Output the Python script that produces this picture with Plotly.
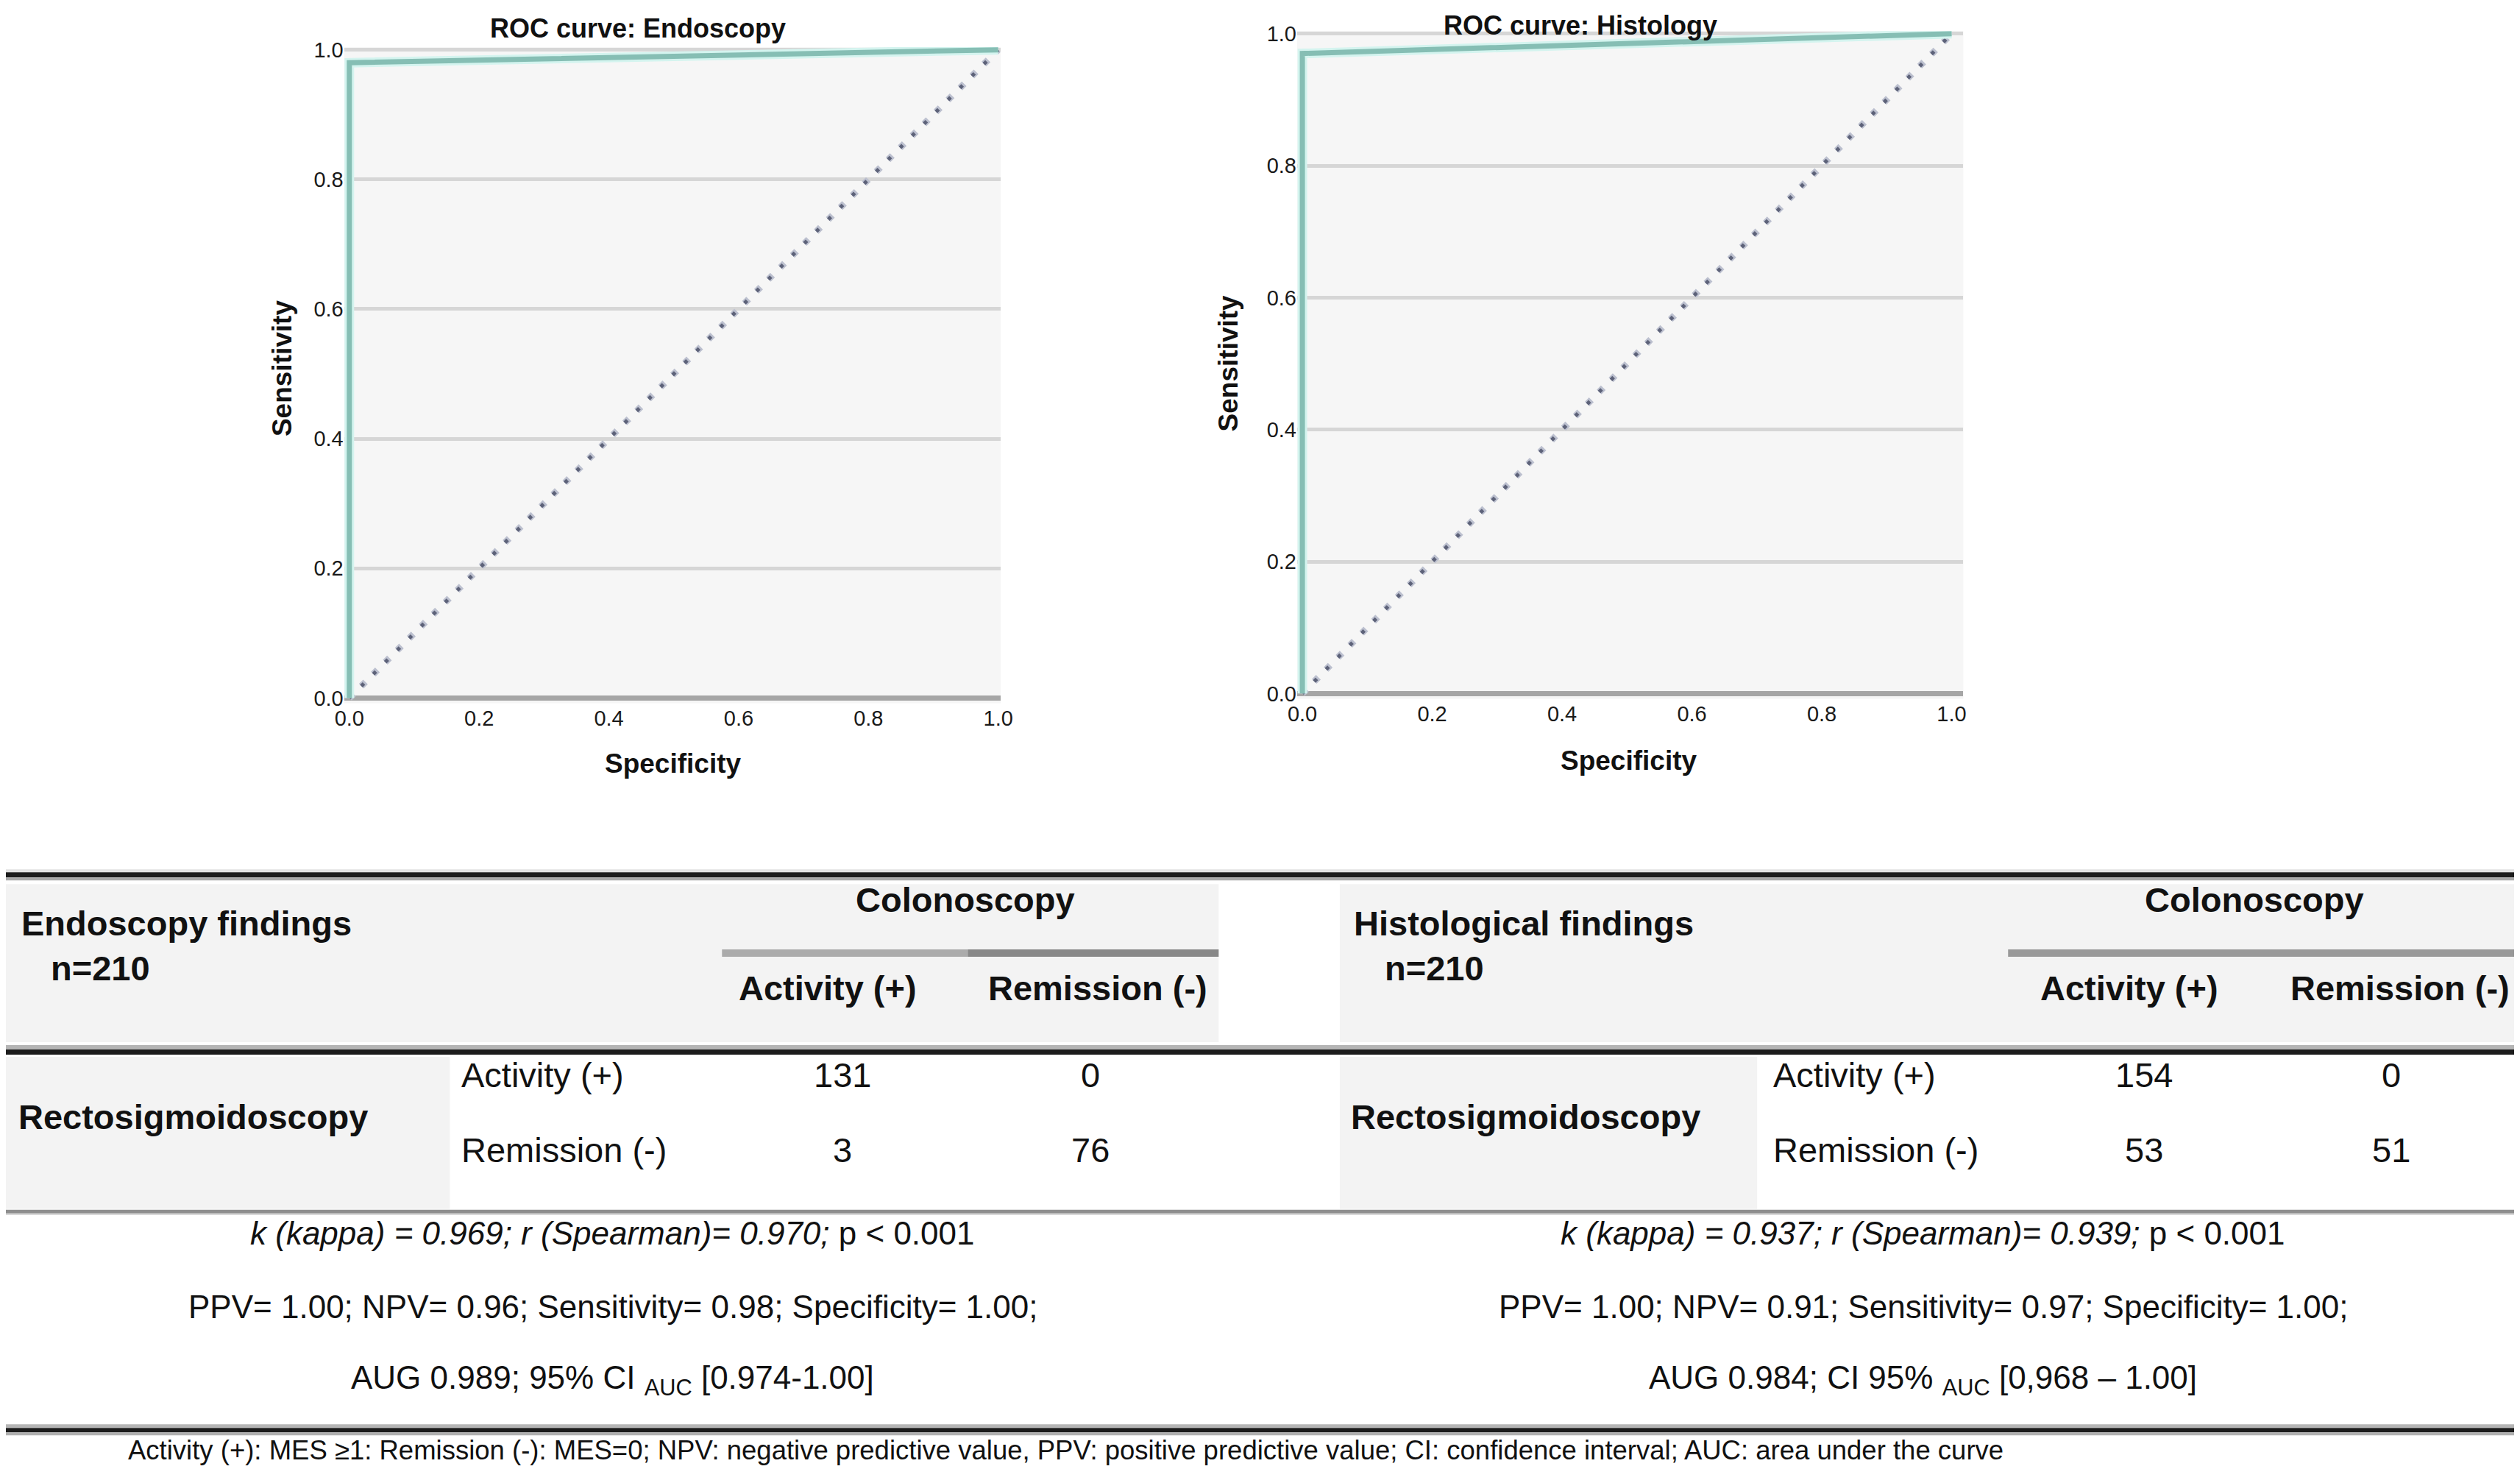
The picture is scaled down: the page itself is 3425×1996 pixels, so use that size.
import plotly.graph_objects as go

W, H = 3425, 1996
M = 8  # default body margin of the html page
FONT = "Liberation Sans, Arial, sans-serif"

# ROC curves (x axis drawn as 1 - specificity)
endo_x = [0.0, 0.0, 1.0]
endo_y = [0.0, 0.98, 1.0]
hist_x = [0.0, 0.0, 1.0]
hist_y = [0.0, 0.970, 1.0]
chance_x = [0.0, 1.0]
chance_y = [0.0, 1.0]
tick_vals = [0.0, 0.2, 0.4, 0.6, 0.8, 1.0]
tick_text = ["0.0", "0.2", "0.4", "0.6", "0.8", "1.0"]

# agreement tables
col_labels = ["Activity (+)", "Remission (-)"]
row_labels = ["Activity (+)", "Remission (-)"]
endo_counts = [[131, 0], [3, 76]]
hist_counts = [[154, 0], [53, 51]]
endo_stats = [
    "<i>k (kappa) = 0.969; r (Spearman)= 0.970;</i> p &lt; 0.001",
    "PPV= 1.00; NPV= 0.96; Sensitivity= 0.98; Specificity= 1.00;",
    "AUG 0.989; 95% CI <sub>AUC</sub> [0.974-1.00]",
]
hist_stats = [
    "<i>k (kappa) = 0.937; r (Spearman)= 0.939;</i> p &lt; 0.001",
    "PPV= 1.00; NPV= 0.91; Sensitivity= 0.97; Specificity= 1.00;",
    "AUG 0.984; CI 95% <sub>AUC</sub> [0,968 – 1.00]",
]
footnote = ("Activity (+): MES ≥1: Remission (-): MES=0; NPV: negative predictive value, "
            "PPV: positive predictive value; CI: confidence interval; AUC: area under the curve")

FW, FH = W, H
# small correction for how the page ends up in the screenshot
AX, BX = 13.0, 0.9941
AY, BY = 11.4, 0.9907


def px(x):
    return ((x - AX) / BX - M) / FW


def py(y):
    return 1 - ((y - AY) / BY - M) / FH


fig = go.Figure()

# ROC panels
for ax, xs, ys in [("", endo_x, endo_y), ("2", hist_x, hist_y)]:
    fig.add_trace(go.Scatter(x=chance_x, y=chance_y, mode="lines",
                             line=dict(color="#bcc0cf", width=9, dash="8px,15px"),
                             xaxis="x" + ax, yaxis="y" + ax, showlegend=False))
    fig.add_trace(go.Scatter(x=chance_x, y=chance_y, mode="lines",
                             line=dict(color="#5d6279", width=5, dash="5px,18px"),
                             xaxis="x" + ax, yaxis="y" + ax, showlegend=False))
    fig.add_trace(go.Scatter(x=xs, y=ys, mode="lines",
                             line=dict(color="#d4f4ef", width=13),
                             xaxis="x" + ax, yaxis="y" + ax, showlegend=False))
    fig.add_trace(go.Scatter(x=xs, y=ys, mode="lines",
                             line=dict(color="#86beb4", width=7),
                             xaxis="x" + ax, yaxis="y" + ax, showlegend=False))

axis_common = dict(tickvals=tick_vals, ticktext=tick_text, ticks="", showline=False,
                   tickfont=dict(family=FONT, size=29, color="#1a1a1a"))
y_common = dict(range=[-0.008, 1.004], showgrid=True, gridcolor="#d6d6d6", gridwidth=5,
                zeroline=True, zerolinecolor="#a6a6a6", zerolinewidth=7, **axis_common)


def dom(a, b):
    return [px(a), px(b)]


fig.update_layout(
    width=FW, height=FH,
    margin=dict(l=0, r=0, t=0, b=0),
    paper_bgcolor="white",
    plot_bgcolor="#f6f6f6",
    showlegend=False,
    # left panel: x 0 -> 476px, 1 -> 1361px ; y 0 -> 949px, 1 -> 67px
    xaxis=dict(domain=dom(469, 1364), range=[-0.008, 1.004], showgrid=False, zeroline=False,
               anchor="y", **axis_common),
    yaxis=dict(domain=[py(956), py(63.5)], anchor="x", **y_common),
    # right panel: x 0 -> 1775px, 1 -> 2660px ; y 0 -> 943px, 1 -> 45px
    xaxis2=dict(domain=dom(1768, 2676), range=[-0.008, 1.018], showgrid=False, zeroline=False,
                anchor="y2", **axis_common),
    yaxis2=dict(domain=[py(950), py(41.5)], anchor="x2", **y_common),
)

ann = []


def text(x, y, s, size=45, bold=False, anchor="center", angle=0):
    if bold:
        s = "<b>" + s + "</b>"
    ann.append(dict(x=px(x), y=py(y), xref="paper", yref="paper", text=s,
                    showarrow=False, xanchor=anchor, yanchor="middle", textangle=angle,
                    font=dict(family=FONT, size=size, color="#111111")))


# chart titles
text(869, 38, "ROC curve: Endoscopy", size=36, bold=True)
text(2154, 34, "ROC curve: Histology", size=36, bold=True)
text(917, 1038, "Specificity", size=37, bold=True)
text(2220, 1034, "Specificity", size=37, bold=True)
text(384, 501, "Sensitivity", size=37, bold=True, angle=-90)
text(1674, 494, "Sensitivity", size=37, bold=True, angle=-90)

shapes = []


def rect(x0, y0, x1, y1, color):
    shapes.append(dict(type="rect", xref="paper", yref="paper",
                       x0=px(x0), x1=px(x1), y0=py(y1), y1=py(y0),
                       fillcolor=color, line=dict(width=0), layer="below"))


# table backgrounds
rect(5, 1202, 1661, 1417, "#f3f3f3")
rect(1826, 1202, 3440, 1417, "#f3f3f3")
rect(5, 1437, 613, 1644, "#f3f3f3")
rect(1826, 1437, 2395, 1644, "#f3f3f3")

# rules
rect(4, 1182, 3440, 1186, "#e2e2e2")
rect(4, 1186, 3440, 1193, "#1c1c1c")
rect(4, 1193, 3440, 1197, "#a9a9a9")
rect(4, 1421, 3440, 1427, "#b5b5b5")
rect(4, 1427, 3440, 1434, "#1c1c1c")
rect(4, 1645, 3440, 1650, "#8e8e8e")
rect(4, 1650, 3440, 1652, "#d0d0d0")
rect(4, 1937, 3440, 1942, "#b5b5b5")
rect(4, 1942, 3440, 1948, "#1c1c1c")
rect(4, 1948, 3440, 1952, "#b0b0b0")
# spanner rules under "Colonoscopy"
rect(984, 1291, 1319, 1301, "#ababab")
rect(1319, 1291, 1661, 1301, "#888888")
rect(2737, 1291, 3440, 1301, "#999999")

tables = [
    dict(title="Endoscopy findings", x0=27, n_x=67, col_x=[1128, 1496], val_x=[1148, 1486],
         span_x=1316, row_x=627, counts=endo_counts, stats=endo_stats, stats_x=835),
    dict(title="Histological findings", x0=1843, n_x=1885, col_x=[2902, 3271], val_x=[2922, 3259],
         span_x=3073, row_x=2415, counts=hist_counts, stats=hist_stats, stats_x=2621),
]

for t in tables:
    text(t["x0"], 1255, t["title"], size=47, bold=True, anchor="left")
    text(t["n_x"], 1316, "n=210", size=47, bold=True, anchor="left")
    text(t["span_x"], 1223, "Colonoscopy", size=47, bold=True)
    for cx, lab in zip(t["col_x"], col_labels):
        text(cx, 1343, lab, size=47, bold=True)
    text(t["x0"] - 4, 1519, "Rectosigmoidoscopy", size=47, bold=True, anchor="left")
    for ry, lab, row in zip([1462, 1564], row_labels, t["counts"]):
        text(t["row_x"], ry, lab, size=47, anchor="left")
        for cx, v in zip(t["val_x"], row):
            text(cx, ry, str(v), size=47)
    for sy, s in zip([1677, 1777, 1877], t["stats"]):
        text(t["stats_x"], sy, s, size=44)

text(172, 1972, footnote, size=36.5, anchor="left")

fig.update_layout(annotations=ann, shapes=shapes)

fig.write_html("out.html")
